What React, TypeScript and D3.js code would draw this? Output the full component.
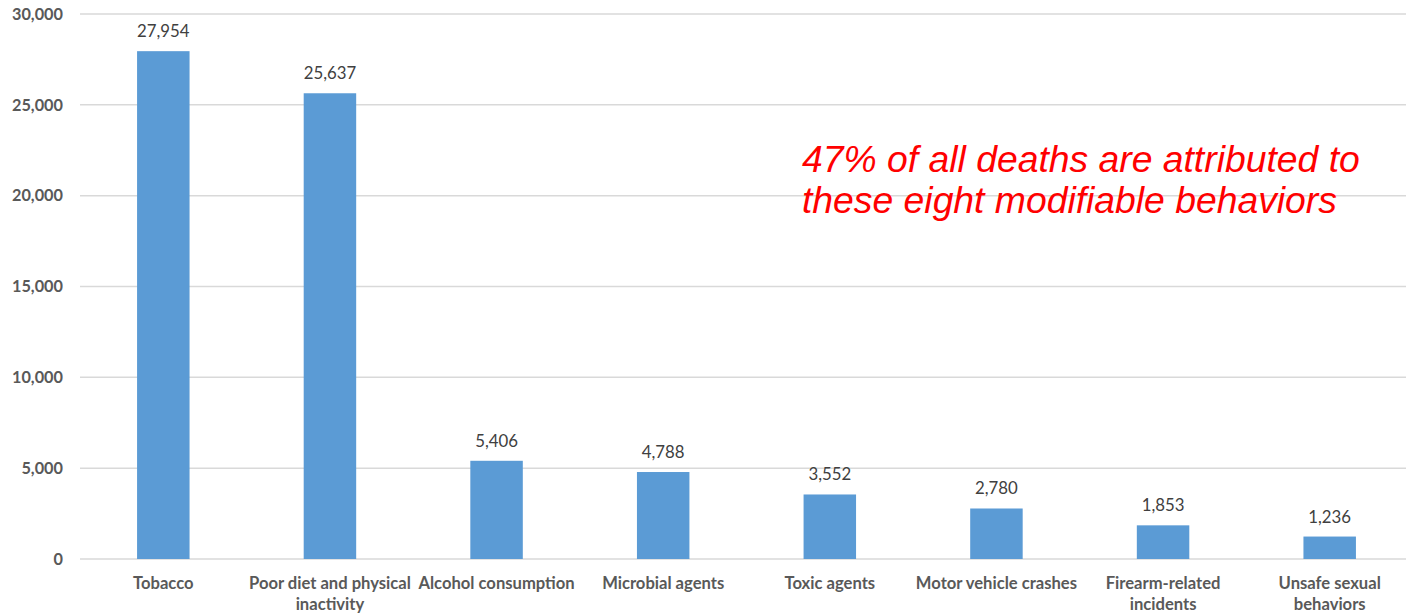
import React from "react";
import * as d3 from "d3";

const categories = [
  "Tobacco",
  "Poor diet and physical|inactivity",
  "Alcohol consumption",
  "Microbial agents",
  "Toxic agents",
  "Motor vehicle crashes",
  "Firearm-related|incidents",
  "Unsafe sexual|behaviors",
];
const values = [27954, 25637, 5406, 4788, 3552, 2780, 1853, 1236];
const yTicks = [0, 5000, 10000, 15000, 20000, 25000, 30000];
const annotation = ["47% of all deaths are attributed to", "these eight modifiable behaviors"];

const W = 1406;
const H = 614;

export default function App() {
  const x = d3.scaleBand<number>().domain(d3.range(categories.length)).range([80, 1413]).padding(0);
  const y = d3.scaleLinear().domain([0, 30000]).range([559, 14]);
  const barW = x.bandwidth() * 0.315;
  const fmt = d3.format(",");
  const font = "Lato, 'Open Sans', sans-serif";
  return (
    <svg width={W} height={H} style={{ position: "absolute", left: 0, top: 0, background: "#fff" }}>
      {yTicks.map((t) => (
        <g key={t}>
          <line x1={80} x2={W} y1={y(t)} y2={y(t)} stroke="#d9d9d9" strokeWidth={1.5} />
          <text x={63} y={y(t)} dy="0.35em" textAnchor="end" fontFamily={font} fontWeight="bold" fontSize={16.3} fill="#595959">
            {fmt(t)}
          </text>
        </g>
      ))}
      {values.map((v, i) => {
        const cx = x(i)! + x.bandwidth() / 2;
        return (
          <g key={i}>
            <rect x={cx - barW / 2} y={y(v)} width={barW} height={y(0) - y(v)} fill="#5b9bd5" />
            <text x={cx} y={y(v) - 14} textAnchor="middle" fontFamily={font} fontSize={16.8} fill="#404040">
              {fmt(v)}
            </text>
            {categories[i].split("|").map((ln, j) => (
              <text key={j} x={cx} y={589 + j * 21} textAnchor="middle" fontFamily={font} fontWeight="bold" fontSize={16.6} fill="#595959">
                {ln}
              </text>
            ))}
          </g>
        );
      })}
      {annotation.map((ln, j) => (
        <text key={j} x={802} y={172 + j * 41} fontFamily="'Liberation Sans', Arial, sans-serif" fontStyle="italic" fontSize={37.3} fill="#ff0000">
          {ln}
        </text>
      ))}
    </svg>
  );
}
